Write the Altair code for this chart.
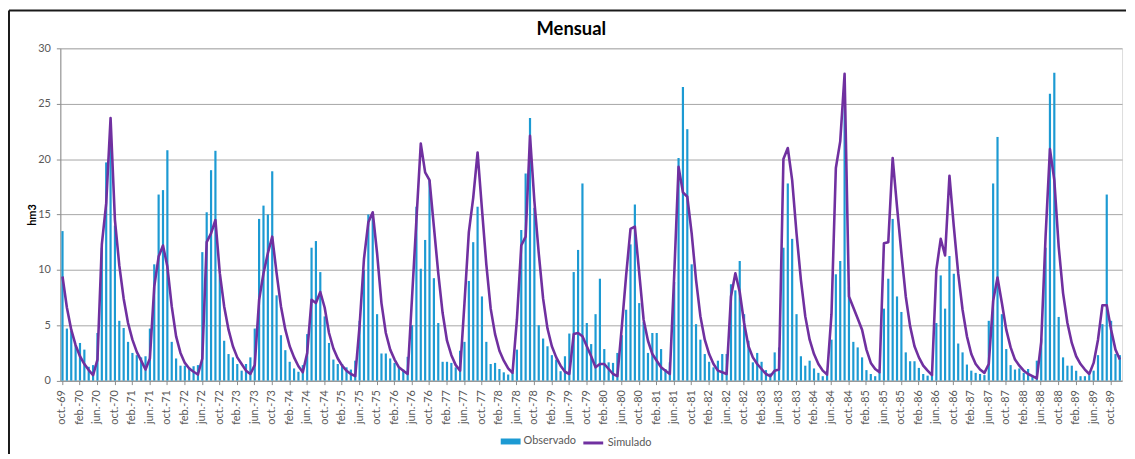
import altair as alt
import pandas as pd

# ---- data (monthly, oct-1969 .. dic-1989) ----
MESES = ["ene.", "feb.", "mar.", "abr.", "may.", "jun.",
         "jul.", "ago.", "sep.", "oct.", "nov.", "dic."]

observado = [
    13.5, 4.7, 4.5, 3.2, 3.4, 2.8, 1.25, 1.4, 4.3, 12.0, 19.7, 21.5,
    14.0, 5.4, 4.75, 3.5, 2.5, 2.3, 2.1, 2.2, 4.7, 10.5, 16.8, 17.2,
    20.8, 3.5, 2.0, 1.35, 1.35, 1.2, 1.3, 1.4, 11.6, 15.2, 19.0, 20.75,
    9.5, 3.6, 2.4, 2.1, 1.5, 0.9, 1.5, 2.1, 4.7, 14.6, 15.8, 15.0,
    18.9, 7.7, 4.1, 2.75, 1.7, 1.1, 0.8, 1.4, 4.2, 12.0, 12.6, 9.8,
    5.8, 3.4, 1.9, 1.5, 1.5, 1.2, 1.0, 1.8, 5.4, 10.0, 15.0, 15.0,
    6.0, 2.45, 2.45, 2.0, 1.6, 1.2, 1.0, 2.15, 5.0, 15.7, 10.1, 12.7,
    18.1, 9.25, 5.2, 1.7, 1.7, 1.6, 1.2, 2.7, 3.5, 9.0, 12.5, 15.7,
    7.6, 3.5, 1.5, 1.6, 1.05, 0.75, 0.55, 0.7, 2.8, 13.6, 18.7, 23.7,
    15.6, 5.0, 3.8, 3.1, 2.3, 1.9, 0.85, 2.2, 4.25, 9.8, 11.8, 17.8,
    5.2, 3.3, 6.0, 9.2, 2.85, 1.65, 1.6, 2.5, 4.1, 6.4, 12.3, 15.9,
    7.0, 5.3, 2.5, 4.3, 4.3, 2.85, 1.05, 1.65, 8.9, 20.1, 26.5, 22.7,
    10.5, 5.1, 3.7, 2.4, 1.7, 1.2, 1.8, 2.4, 2.4, 8.7, 8.15, 10.8,
    6.0, 3.6, 1.65, 2.5, 1.7, 0.95, 0.65, 2.55, 3.0, 12.0, 17.8, 12.8,
    6.0, 2.2, 1.35, 1.8, 1.1, 0.7, 0.4, 0.5, 3.7, 9.6, 10.8, 25.5,
    8.45, 3.5, 3.0, 2.1, 0.95, 0.6, 0.4, 0.75, 6.5, 9.2, 14.6, 7.6,
    6.2, 2.55, 1.75, 1.75, 1.15, 0.6, 0.45, 0.6, 5.2, 9.5, 6.5, 11.25,
    9.65, 3.35, 2.55, 1.45, 0.9, 0.7, 0.6, 0.5, 5.4, 17.8, 22.0, 6.0,
    2.85, 1.4, 1.0, 1.1, 0.7, 1.05, 0.4, 1.8, 3.8, 12.0, 25.9, 27.8,
    5.75, 2.1, 1.35, 1.35, 0.9, 0.4, 0.4, 0.5, 0.9, 2.3, 5.1, 16.8,
    5.4, 2.4, 2.3,
]

simulado = [
    9.4, 6.6, 4.6, 3.2, 2.2, 1.5, 0.95, 0.5, 1.9, 12.3, 16.0, 23.7,
    14.5, 10.4, 7.4, 5.2, 3.7, 2.6, 1.8, 1.0, 2.0, 8.5, 11.2, 12.2,
    10.3, 6.7, 4.0, 2.5, 1.6, 1.1, 0.8, 0.55, 2.0, 12.5, 13.3, 14.5,
    9.7, 6.7, 4.6, 3.1, 2.1, 1.5, 0.9, 0.6, 1.4, 7.3, 9.7, 11.5,
    13.0, 9.7, 6.7, 4.6, 3.1, 2.1, 1.3, 0.75, 2.5, 7.3, 7.0, 8.0,
    6.6, 4.3, 2.9, 2.0, 1.35, 0.9, 0.6, 0.4, 5.0, 11.0, 14.3, 15.2,
    11.5, 7.0, 4.3, 2.8, 1.9, 1.2, 0.9, 0.6, 7.5, 14.5, 21.4, 18.8,
    18.1, 13.9, 9.7, 6.1, 3.6, 2.3, 1.4, 0.9, 7.0, 13.4, 16.5, 20.6,
    15.5, 10.5, 6.5, 4.2, 2.7, 1.8, 1.1, 0.7, 5.5, 12.2, 13.0, 22.1,
    16.2, 11.5, 7.4, 4.7, 3.1, 2.1, 1.35, 0.8, 0.6, 4.2, 4.3, 4.0,
    3.1, 2.2, 1.2, 1.5, 1.5, 1.05, 0.6, 0.4, 4.8, 9.5, 13.7, 13.9,
    9.7, 5.5, 3.6, 2.4, 1.8, 1.2, 0.9, 0.6, 9.5, 19.3, 17.0, 16.6,
    13.3, 9.1, 5.8, 3.7, 2.4, 1.5, 0.9, 0.75, 0.6, 7.6, 9.7, 8.0,
    5.2, 3.1, 2.1, 1.5, 1.05, 0.6, 0.4, 0.9, 1.0, 20.0, 21.0, 18.1,
    13.3, 9.1, 5.8, 3.7, 2.4, 1.5, 0.9, 0.55, 6.0, 19.2, 21.6, 27.7,
    7.6, 6.6, 5.6, 4.6, 2.8, 1.6, 1.05, 0.75, 12.4, 12.5, 20.1, 15.7,
    11.5, 7.6, 4.9, 3.1, 2.1, 1.35, 0.9, 0.5, 10.0, 12.8, 11.3, 18.5,
    13.9, 9.7, 6.4, 4.0, 2.4, 1.5, 1.0, 0.7, 1.5, 7.2, 9.3, 7.0,
    4.6, 3.0, 1.9, 1.35, 0.9, 0.6, 0.4, 0.2, 3.5, 13.0, 20.9, 18.1,
    12.1, 7.9, 5.2, 3.4, 2.2, 1.5, 1.0, 0.6, 1.6, 3.7, 6.8, 6.8,
    4.6, 2.8, 1.9,
]

# category labels (one per month, starting oct.-69)
meses = []
for k in range(len(observado)):
    m = (9 + k) % 12
    yr = 1969 + (9 + k) // 12
    meses.append(f"{MESES[m]}-{yr % 100:02d}")
etiquetas = meses[::4]
y_ticks = [0, 5, 10, 15, 20, 25, 30]

BLUE = "#1c9ad3"
PURPLE = "#7030a0"
FONT = "Lato"
GREY_TXT = "#595959"

df = pd.DataFrame({
    "mes": meses,
    "obs": observado,
    "sim": simulado,
    "s_obs": ["Observado"] * len(meses),
    "s_sim": ["Simulado"] * len(meses),
})

W = 1069.4
H = 334.7

x_axis = alt.Axis(values=etiquetas, labelAngle=-90, title=None, grid=False,
                  labelFont=FONT, labelFontSize=11, labelColor=GREY_TXT,
                  labelPadding=5, tickSize=4, tickColor="#8c8c8c",
                  domainColor="#8c8c8c", labelBaseline="middle", labelAlign="right")
x_scale = alt.Scale(paddingInner=0.5, paddingOuter=0.25)

y_axis = alt.Axis(values=y_ticks, title="hm3", titleFont=FONT, titleFontSize=11,
                  titleFontWeight="bold", titleColor="#000000", titleX=-27.7,
                  titleY=H / 2, titleAlign="center", titleBaseline="middle",
                  labelFont=FONT, labelFontSize=11, labelColor=GREY_TXT,
                  labelPadding=6, tickSize=4, tickColor="#8c8c8c",
                  domainColor="#8c8c8c", gridColor="#a6a6a6", gridWidth=1)
y_scale = alt.Scale(domain=[0, 30], nice=False)

bars = alt.Chart(df).mark_bar().encode(
    x=alt.X("mes:N", sort=meses, scale=x_scale, axis=x_axis),
    y=alt.Y("obs:Q", scale=y_scale, axis=y_axis),
    fill=alt.Fill("s_obs:N", scale=alt.Scale(domain=["Observado"], range=[BLUE]),
                  legend=alt.Legend(title=None, orient="none", legendX=443.6, legendY=386,
                                    padding=0, symbolType="M-1,-0.3L1,-0.3L1,0.3L-1,0.3Z",
                                    symbolSize=400, symbolStrokeWidth=0,
                                    labelFont=FONT, labelFontSize=11, labelColor=GREY_TXT,
                                    labelOffset=3)),
)

line = alt.Chart(df).mark_line(strokeWidth=2.6, strokeJoin="round").encode(
    x=alt.X("mes:N", sort=meses, scale=x_scale, axis=x_axis, bandPosition=0.5),
    y=alt.Y("sim:Q", scale=y_scale, axis=y_axis),
    stroke=alt.Stroke("s_sim:N", scale=alt.Scale(domain=["Simulado"], range=[PURPLE]),
                      legend=alt.Legend(title=None, orient="none", legendX=525.3, legendY=386,
                                        padding=0, symbolType="stroke", symbolSize=400,
                                        symbolStrokeWidth=3,
                                        labelFont=FONT, labelFontSize=11, labelColor=GREY_TXT,
                                        labelOffset=3)),
)

frame_df = pd.DataFrame({"k": [0]})
frame_top = alt.Chart(frame_df).mark_rule(color="#1a1a1a", strokeWidth=2).encode(
    x=alt.value(-51.7), x2=alt.value(W + 4), y=alt.value(-38))
frame_left = alt.Chart(frame_df).mark_rule(color="#1a1a1a", strokeWidth=2).encode(
    x=alt.value(-51.7), y=alt.value(-38), y2=alt.value(H + 74))

chart = alt.layer(bars, line, frame_top, frame_left).properties(
    width=W, height=H,
    autosize=alt.AutoSizeParams(type="none"),
    padding={"left": 52.7, "top": 39, "right": 5, "bottom": 76},
    title=alt.TitleParams("Mensual", font=FONT, fontSize=18.5, fontWeight="bold",
                          color="#000000", anchor="middle", dx=-20, dy=41, offset=12),
).configure_view(stroke=None).configure(background="white")

chart.save("out.html", embed_options={"renderer": "svg", "actions": False})
